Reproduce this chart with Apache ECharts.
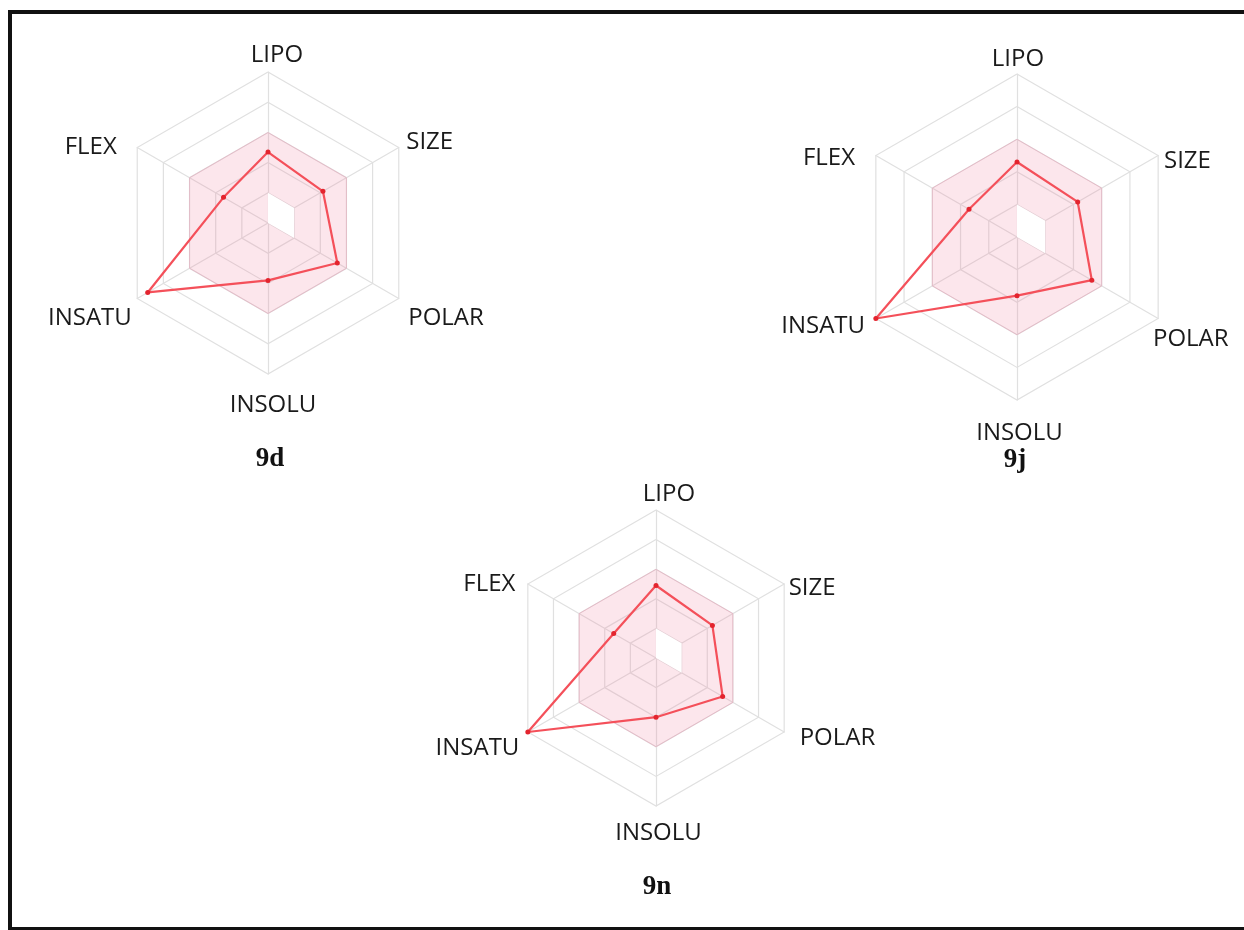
<!DOCTYPE html>
<html>
<head>
<meta charset="utf-8">
<style>
  html, body { margin: 0; padding: 0; background: #ffffff; overflow: hidden; }
  #chart { position: absolute; left: 0; top: 0; width: 1244px; height: 930px; }
  #frame { position: absolute; left: 8px; top: 10px; width: 1300px; height: 921px;
           box-sizing: border-box; border: 4px solid #111; pointer-events: none; }
</style>
<script src="https://cdn.jsdelivr.net/npm/echarts@6/dist/echarts.min.js"></script>
</head>
<body>
<div id="chart"></div>
<div id="frame"></div>
<script>
// Bioavailability radar properties (clockwise from the top)
const properties = ['LIPO', 'SIZE', 'POLAR', 'INSOLU', 'INSATU', 'FLEX'];
const compounds = ['9d', '9j', '9n'];

// Normalised scores per property, in the order of `properties`
const values9d = [0.47, 0.42, 0.53, 0.38, 0.92, 0.34];
const values9j = [0.46, 0.43, 0.53, 0.36, 1.00, 0.34];
const values9n = [0.49, 0.44, 0.52, 0.40, 1.00, 0.33];

// Optimal physicochemical range (pink band)
const optimalUpper = [0.6, 0.6, 0.6, 0.6, 0.6, 0.6];
const optimalLower = [0.2, 0.2, 0.2, 0, 0, 0];

const valuesByCompound = { '9d': values9d, '9j': values9j, '9n': values9n };

// ECharts lays indicators out counter-clockwise, so walk the list backwards
const axisOrder = ['LIPO', 'FLEX', 'INSATU', 'INSOLU', 'POLAR', 'SIZE'];
const reorder = arr => axisOrder.map(p => arr[properties.indexOf(p)]);

// Placement of each radar and fine offsets for its axis names ([top, right, bottom, left])
const layouts = {
  '9d': { center: [268, 223], radius: 151, nameGap: 4, title: [270, 446],
          pad: { LIPO: [0, 0, 1, 18], SIZE: [0, 0, 7, 4], POLAR: [35, 0, 0, 6],
                 INSOLU: [15, 0, 0, 10], INSATU: [35, 2, 0, 0], FLEX: [4, 17, 0, 0] } },
  '9j': { center: [1017, 237], radius: 163, nameGap: -6, title: [1015, 447],
          pad: { LIPO: [0, 0, 9, 2], SIZE: [6, 0, 0, 11], POLAR: [48, 0, 0, 0],
                 INSOLU: [27, 0, 0, 5], INSATU: [22, 16, 0, 0], FLEX: [0, 26, 0, 0] } },
  '9n': { center: [656, 658], radius: 148, nameGap: 4, title: [657, 874],
          pad: { LIPO: [0, 0, 0, 26], SIZE: [12, 0, 0, 1], POLAR: [8, 0, 0, 12],
                 INSOLU: [11, 0, 0, 5], INSATU: [29, 5, 0, 0], FLEX: [4, 9, 0, 0] } }
};

const labelFont = { fontFamily: '"Open Sans", "Noto Sans", sans-serif', fontSize: 24, color: '#1a1a1a' };
const gridColor = '#e0e0e0';

const radars = [];
const series = [];
const titles = [];

compounds.forEach((cpd, i) => {
  const lay = layouts[cpd];
  const rich = {};
  axisOrder.forEach(p => {
    rich[p] = Object.assign({ padding: lay.pad[p] }, labelFont);
  });
  radars.push({
    center: lay.center,
    radius: lay.radius,
    shape: 'polygon',
    splitNumber: 5,
    nameGap: lay.nameGap,
    indicator: axisOrder.map(p => ({ name: p, min: 0, max: 1 })),
    axisName: Object.assign({ formatter: name => '{' + name + '|' + name + '}', rich: rich }, labelFont),
    axisLine: { lineStyle: { color: gridColor, width: 1.2 } },
    splitLine: { lineStyle: { color: gridColor, width: 1.2 } },
    splitArea: { show: false },
    axisLabel: { show: false },
    axisTick: { show: false }
  });

  series.push({
    type: 'radar', radarIndex: i, silent: true, symbol: 'none',
    lineStyle: { color: 'rgba(230,130,160,0.3)', width: 1 },
    areaStyle: { color: 'rgba(240,128,160,0.2)', opacity: 1 },
    data: [{ value: reorder(optimalUpper) }]
  });
  series.push({
    type: 'radar', radarIndex: i, silent: true, symbol: 'none',
    lineStyle: { width: 0, opacity: 0 },
    areaStyle: { color: '#ffffff', opacity: 1 },
    data: [{ value: reorder(optimalLower) }]
  });
  series.push({
    type: 'radar', radarIndex: i, silent: true,
    symbol: 'circle', symbolSize: 5,
    itemStyle: { color: '#e3242e' },
    lineStyle: { color: '#f4505a', width: 2.2 },
    data: [{ value: reorder(valuesByCompound[cpd]), name: cpd }]
  });

  titles.push({
    text: cpd,
    left: lay.title[0], top: lay.title[1],
    textAlign: 'center', padding: 0,
    textStyle: { fontFamily: '"Liberation Serif", "Times New Roman", serif', fontWeight: 'bold', fontSize: 27, color: '#111' }
  });
});

const chart = echarts.init(document.getElementById('chart'), null, { renderer: 'canvas' });
chart.setOption({
  backgroundColor: '#ffffff',
  animation: false,
  title: titles,
  radar: radars,
  series: series
});
</script>
</body>
</html>
